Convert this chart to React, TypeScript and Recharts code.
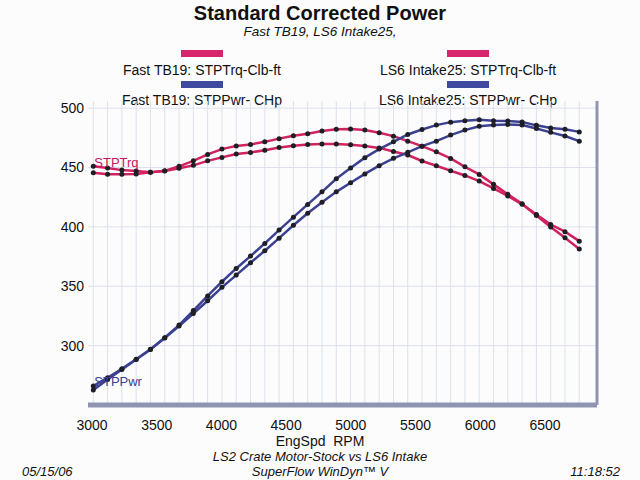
import { LineChart, Line, XAxis, YAxis, ReferenceLine } from 'recharts'

// ─── Data ─────────────────────────────────
const RPM = [
  3100, 3200, 3300, 3400, 3500, 3600, 3700, 3800, 3900, 4000, 4100, 4200,
  4300, 4400, 4500, 4600, 4700, 4800, 4900, 5000, 5100, 5200, 5300, 5400,
  5500, 5600, 5700, 5800, 5900, 6000, 6100, 6200, 6300, 6400, 6500,
]

const TRQ_FAST = [
  451, 449.5, 447.8, 447, 446, 447.2, 451, 455.6, 461, 465.5, 468.2, 469.4,
  471.6, 474.3, 476.8, 478.5, 480.7, 482.2, 482.4, 481.5, 479.2, 476.4, 472.2, 468,
  463.2, 457.6, 450.6, 444.2, 435.8, 427.4, 419.5, 409.5, 399.8, 390.8, 381.3,
]

const TRQ_LS6 = [
  445.5, 444.3, 444.3, 444.6, 445.9, 447, 449.3, 451.8, 455.6, 458.5, 461.3, 462.7,
  464.6, 466.9, 468.3, 469.4, 469.7, 469.7, 469.2, 468.2, 466.5, 463.5, 460.5, 455.5,
  451.5, 447.3, 443.3, 438.6, 432.4, 426, 419, 410.5, 402, 396, 388,
]

const PWR_FAST = [
  265.9, 273, 280.5, 288.5, 296.9, 306.7, 317.3, 329.5, 341.8, 353.8, 365, 375.4,
  386.1, 397.3, 408.2, 418.9, 429.5, 440.5, 449.5, 458.3, 465.5, 471.6, 477.8, 482,
  485.7, 488.2, 489.3, 490.2, 489.3, 489.1, 488.3, 485.5, 483.2, 482.2, 480,
]

const PWR_LS6 = [
  262.6, 271.5, 280, 288.3, 296.7, 306.5, 316.5, 327, 337.8, 349.1, 359.4, 369.8,
  379.9, 390.5, 401.4, 411.4, 420.8, 429.5, 437.2, 444.6, 451.5, 457.7, 462.8, 468,
  472.2, 477.3, 481.5, 484.8, 485.7, 486.3, 485.7, 482.9, 479.6, 476.5, 472.2,
]

const Y_TICKS = [300, 350, 400, 450, 500]
const X_LABELS = [3000, 3500, 4000, 4500, 5000, 5500, 6000, 6500]

const X_DOMAIN = [3063, 6624]
const Y_DOMAIN = [250, 506]

const data = RPM.map((rpm, i) => ({
  rpm,
  trqFast: TRQ_FAST[i],
  trqLs6: TRQ_LS6[i],
  pwrFast: PWR_FAST[i],
  pwrLs6: PWR_LS6[i],
}))

// ─── Styles ─────────
const FONT = '"Liberation Sans", Arial, Helvetica, sans-serif'
const RED = '#d0225f'
const BLUE = '#3b4190'
const GRID = '#dde1ee'
const BAR = '#8f95b0'

const dot = { r: 2.5, fill: '#1e1e24', stroke: 'none' }

const abs = (extra: React.CSSProperties): React.CSSProperties => ({
  position: 'absolute',
  fontFamily: FONT,
  color: '#111',
  whiteSpace: 'nowrap',
  ...extra,
})

// label drawn only next to the first point of a series
const startLabel = (text: string, color: string, dy: number) => (props: any) => {
  if (props.index !== 0) return null
  return (
    <text x={props.x + 1} y={props.y + dy} fill={color} fontSize={13} fontFamily={FONT}>
      {text}
    </text>
  )
}

function LegendCol({ cx, trq, pwr }: { cx: number; trq: string; pwr: string }) {
  return (
    <>
      <div style={abs({ left: cx - 21, top: 50, width: 42, height: 7, background: '#d8246a' })} />
      <div style={abs({ left: cx - 120, top: 61, width: 240, textAlign: 'center', fontSize: 14, lineHeight: '18px' })}>
        {trq}
      </div>
      <div style={abs({ left: cx - 21, top: 81, width: 42, height: 7, background: '#3f4a9e' })} />
      <div style={abs({ left: cx - 120, top: 91, width: 240, textAlign: 'center', fontSize: 14, lineHeight: '18px' })}>
        {pwr}
      </div>
    </>
  )
}

export default function App() {
  return (
    <div style={{ position: 'absolute', left: 0, top: 0, width: 640, height: 480, background: '#fcfcfd', overflow: 'hidden' }}>
      <div style={abs({ left: 0, top: 1, width: 640, textAlign: 'center', fontSize: 20, fontWeight: 'bold', lineHeight: '24px' })}>
        Standard Corrected Power
      </div>
      <div style={abs({ left: 0, top: 24, width: 640, textAlign: 'center', fontSize: 13.5, fontStyle: 'italic', lineHeight: '16px' })}>
        Fast TB19, LS6 Intake25,
      </div>
      <LegendCol cx={202} trq="Fast TB19: STPTrq-Clb-ft" pwr="Fast TB19: STPPwr- CHp" />
      <LegendCol cx={468} trq="LS6 Intake25: STPTrq-Clb-ft" pwr="LS6 Intake25: STPPwr- CHp" />

      <div style={{ position: 'absolute', left: 0, top: 0 }}>
        <LineChart width={640} height={480} data={data} margin={{ top: 101, right: 43, bottom: 45, left: 0 }}>
          <XAxis
            dataKey="rpm"
            type="number"
            domain={X_DOMAIN}
            allowDataOverflow
            ticks={RPM}
            tick={false}
            tickLine={false}
            axisLine={false}
            height={0}
          />
          <XAxis
            xAxisId="lab"
            dataKey="rpm"
            type="number"
            domain={[2969, 6902]}
            allowDataOverflow
            ticks={X_LABELS}
            tickLine={false}
            axisLine={false}
            tickSize={0}
            tickMargin={15}
            height={30}
            tick={{ fill: '#111', fontSize: 14, fontFamily: FONT }}
          />
          <YAxis
            type="number"
            domain={Y_DOMAIN}
            allowDataOverflow
            ticks={Y_TICKS}
            width={88}
            axisLine={false}
            tickLine={false}
            tickSize={0}
            tickMargin={4}
            tick={{ fill: '#111', fontSize: 14, fontFamily: FONT }}
          />
          {/* grid: one line per sample rpm, one per labelled value */}
          {RPM.map((r) => (
            <ReferenceLine key={`v${r}`} x={r} stroke={GRID} strokeWidth={1} />
          ))}
          {Y_TICKS.map((v) => (
            <ReferenceLine key={`h${v}`} y={v} stroke={GRID} strokeWidth={1} />
          ))}
          <ReferenceLine y={Y_DOMAIN[0]} stroke={BAR} strokeWidth={5} ifOverflow="extendDomain" />
          <ReferenceLine x={X_DOMAIN[1]} stroke={BAR} strokeWidth={3} ifOverflow="extendDomain" />
          <Line
            dataKey="trqFast"
            stroke={RED}
            strokeWidth={2.5}
            dot={dot}
            activeDot={false}
            isAnimationActive={false}
            label={startLabel('STPTrq', '#c2185b', 1)}
          />
          <Line dataKey="trqLs6" stroke={RED} strokeWidth={2.5} dot={dot} activeDot={false} isAnimationActive={false} />
          <Line
            dataKey="pwrFast"
            stroke={BLUE}
            strokeWidth={2.5}
            dot={dot}
            activeDot={false}
            isAnimationActive={false}
            label={startLabel('STPPwr', BLUE, 0)}
          />
          <Line dataKey="pwrLs6" stroke={BLUE} strokeWidth={2.5} dot={dot} activeDot={false} isAnimationActive={false} />
        </LineChart>
      </div>

      <div style={abs({ left: 0, top: 433, width: 640, textAlign: 'center', fontSize: 14, lineHeight: '16px' })}>
        EngSpd&nbsp;&nbsp;RPM
      </div>
      <div style={abs({ left: 0, top: 449, width: 640, textAlign: 'center', fontSize: 13, fontStyle: 'italic', lineHeight: '16px' })}>
        LS2 Crate Motor-Stock vs LS6 Intake
      </div>
      <div style={abs({ left: 0, top: 464, width: 640, textAlign: 'center', fontSize: 13, fontStyle: 'italic', lineHeight: '16px' })}>
        SuperFlow WinDyn™ V
      </div>
      <div style={abs({ left: 22, top: 464, fontSize: 13, fontStyle: 'italic', lineHeight: '16px' })}>05/15/06</div>
      <div style={abs({ right: 20, top: 464, fontSize: 13, fontStyle: 'italic', lineHeight: '16px' })}>11:18:52</div>
    </div>
  )
}
